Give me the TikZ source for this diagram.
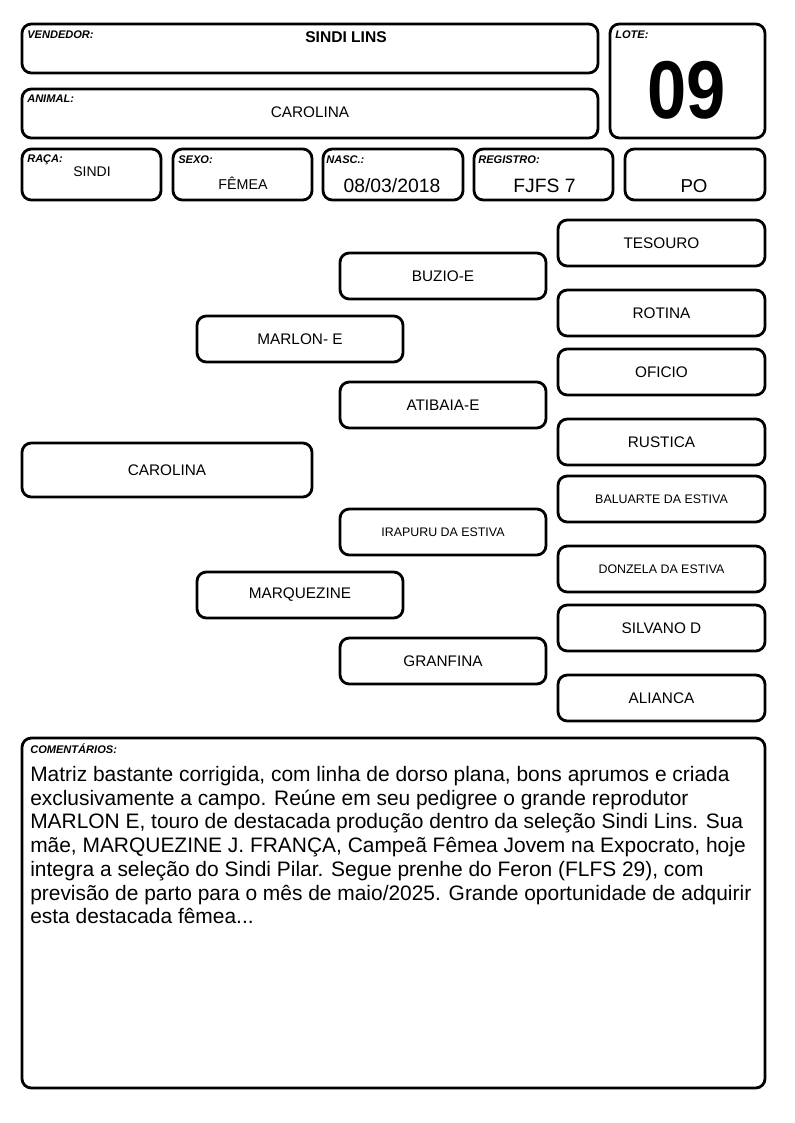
\documentclass[tikz,border=0pt]{standalone}
\usepackage{fontspec}
\setmainfont{Liberation Sans}

\begin{document}
\begin{tikzpicture}[
    x=0.75pt, y=0.75pt,
    box/.style={rectangle, rounded corners=7pt, draw, line width=2.1pt, align=center, font=\fontsize{11.5}{13}\selectfont},
    sz/.style 2 args={minimum width=#1*0.75pt, minimum height=#2*0.75pt},
    fieldtag/.style={anchor=north west, inner sep=0pt, font=\fontsize{8.3}{9}\selectfont\bfseries\itshape},
    longname/.style={font=\fontsize{9.3}{11}\selectfont},
    value/.style={anchor=base, inner sep=0pt}
]
\useasboundingbox (0,0) rectangle (794,-1123);

% Header fields
\node[box, sz={576}{49}] (vendedor) at (310, -48.5) {};
\node[box, sz={576}{49}] (animal) at (310, -113.5) {};
\node[box, sz={155}{114}] (lote) at (687.5, -81) {};
\node[box, sz={139}{51}] (raca) at (91.5, -174.5) {};
\node[box, sz={139}{51}] (sexo) at (242.5, -174.5) {};
\node[box, sz={140}{51}] (nasc) at (393, -174.5) {};
\node[box, sz={139}{51}] (registro) at (543.5, -174.5) {};
\node[box, sz={140}{51}] (po) at (695, -174.5) {};

\node[fieldtag] (vendedortag) at (27, -31) {VENDEDOR:};
\node[fieldtag] (animaltag) at (27, -95) {ANIMAL:};
\node[fieldtag] (lotetag) at (615, -31) {LOTE:};
\node[fieldtag] (racatag) at (27, -155) {RAÇA:};
\node[fieldtag] (sexotag) at (178, -156) {SEXO:};
\node[fieldtag] (nasctag) at (326, -156) {NASC.:};
\node[fieldtag] (registrotag) at (478, -156) {REGISTRO:};

\node[anchor=north, inner sep=0pt, font=\fontsize{11.7}{13}\selectfont\bfseries] (vendedorval) at (346, -31) {SINDI LINS};
\node[font=\fontsize{11.5}{13}\selectfont] (animalval) at (310, -112.5) {CAROLINA};
\node[font=\fontsize{61.5}{62}\selectfont\bfseries, xscale=0.86, transform shape] (loteval) at (687, -90.5) {09};
\node[font=\fontsize{10.5}{12}\selectfont] (racaval) at (92, -172) {SINDI};
\node[value, font=\fontsize{10.7}{12}\selectfont] (sexoval) at (243, -190) {FÊMEA};
\node[value, font=\fontsize{14.5}{16}\selectfont] (nascval) at (392, -193) {08/03/2018};
\node[value, font=\fontsize{14.5}{16}\selectfont] (registroval) at (544.5, -193) {FJFS 7};
\node[value, font=\fontsize{14}{16}\selectfont] (poval) at (694, -193) {PO};

% Pedigree
\node[box, sz={290}{54}] (carolina) at (167, -470) {CAROLINA};
\node[box, sz={206}{46}] (marlon) at (300, -339) {MARLON- E};
\node[box, sz={206}{46}] (marquezine) at (300, -595) {MARQUEZINE};
\node[box, sz={206}{46}] (buzio) at (443, -276) {BUZIO-E};
\node[box, sz={206}{46}] (atibaia) at (443, -405) {ATIBAIA-E};
\node[box, sz={206}{46}, longname] (irapuru) at (443, -532) {IRAPURU DA ESTIVA};
\node[box, sz={206}{46}] (granfina) at (443, -661) {GRANFINA};
\node[box, sz={207}{46}] (tesouro) at (661.5, -243) {TESOURO};
\node[box, sz={207}{46}] (rotina) at (661.5, -313) {ROTINA};
\node[box, sz={207}{46}] (oficio) at (661.5, -372) {OFICIO};
\node[box, sz={207}{46}] (rustica) at (661.5, -442) {RUSTICA};
\node[box, sz={207}{46}, longname] (baluarte) at (661.5, -499) {BALUARTE DA ESTIVA};
\node[box, sz={207}{46}, longname] (donzela) at (661.5, -569) {DONZELA DA ESTIVA};
\node[box, sz={207}{46}] (silvano) at (661.5, -628) {SILVANO D};
\node[box, sz={207}{46}] (alianca) at (661.5, -698) {ALIANCA};

% Comments
\node[box, sz={743}{350}] (comentarios) at (393.5, -913) {};
\node[fieldtag] (comentariostag) at (30, -743) {COMENTÁRIOS:};
\node[anchor=north west, inner sep=0pt, align=left, font=\fontsize{15.7}{17.8}\selectfont] (comentariostxt) at (30, -766) {
    Matriz bastante corrigida, com linha de dorso plana, bons aprumos e criada\\
    exclusivamente a campo. Reúne em seu pedigree o grande reprodutor\\
    MARLON E, touro de destacada produção dentro da seleção Sindi Lins. Sua\\
    mãe, MARQUEZINE J. FRANÇA, Campeã Fêmea Jovem na Expocrato, hoje\\
    integra a seleção do Sindi Pilar. Segue prenhe do Feron (FLFS 29), com\\
    previsão de parto para o mês de maio/2025. Grande oportunidade de adquirir\\
    esta destacada fêmea...
};

\end{tikzpicture}
\end{document}
